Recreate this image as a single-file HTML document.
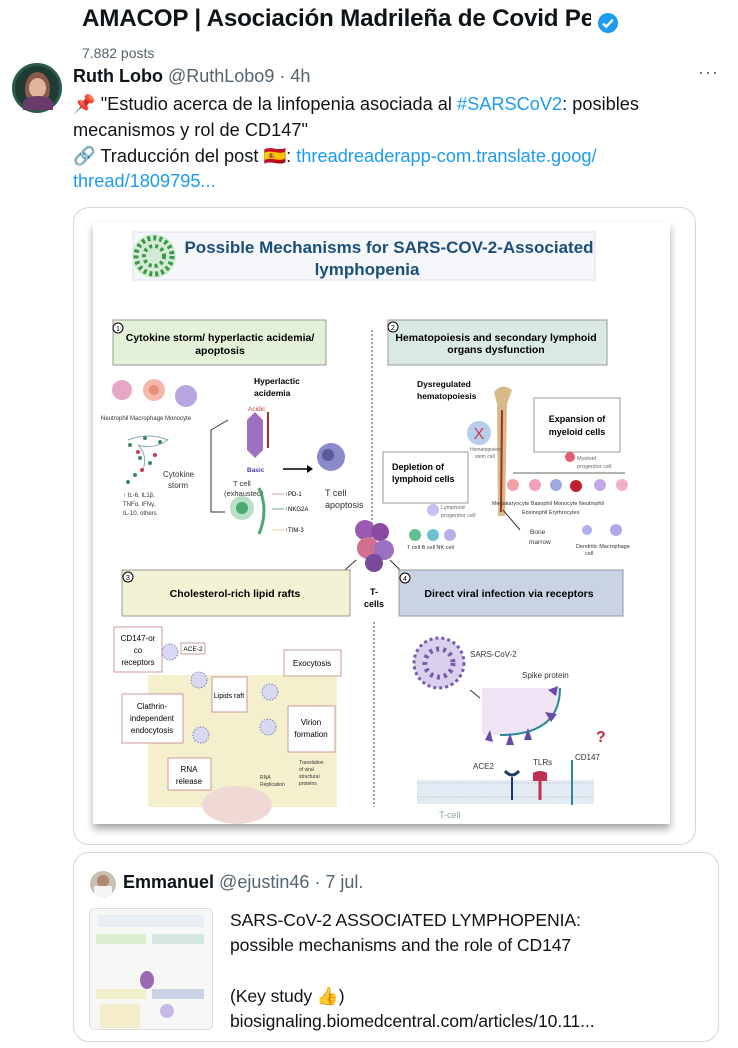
<!DOCTYPE html>
<html><head><meta charset="utf-8"><style>
*{margin:0;padding:0;box-sizing:border-box}
body{width:738px;height:1048px;background:#fff;position:relative;overflow:hidden;font-family:"Liberation Sans",sans-serif;color:#0f1419}
.a{position:absolute;white-space:nowrap}
.tx{font-size:18.2px;line-height:25px}
.qt{font-size:17.6px;line-height:25px;letter-spacing:-0.1px}
.blue{color:#1d9bf0}
.g{color:#536471}
</style></head><body>
<div class="a" style="left:82px;top:5px;font-size:24.2px;font-weight:bold;width:509px;overflow:hidden;letter-spacing:-0.2px">AMACOP | Asociación Madrileña de Covid Persistente</div>
<svg class="a" style="left:597px;top:12px" width="22" height="22" viewBox="0 0 22 22"><circle cx="11" cy="11" r="10" fill="#1d9bf0"/><path d="M6 11.5l3.3 3.2 6.5-7" stroke="#fff" stroke-width="2.4" fill="none"/></svg>
<div class="a g" style="left:82px;top:45px;font-size:14px">7.882 posts</div>
<div class="a" style="left:12px;top:63px;width:50px;height:50px;border-radius:50%;background:#1f3b34;border:3px solid #2a5a4c"><div style="position:absolute;left:10px;top:6px;width:25px;height:34px;border-radius:50%;background:#8a5a4a"></div><div style="position:absolute;left:14px;top:12px;width:17px;height:20px;border-radius:50%;background:#e0b59b"></div><div style="position:absolute;left:8px;top:30px;width:30px;height:14px;border-radius:50% 50% 0 0;background:#6a3a6a"></div></div>
<div class="a" style="left:73px;top:66px;font-size:18px"><b>Ruth Lobo</b> <span class="g">@RuthLobo9 · 4h</span></div>
<div class="a g" style="left:698px;top:62px;font-size:18px;letter-spacing:1px">···</div>
<div class="a tx" style="left:73px;top:92px">📌 "Estudio acerca de la linfopenia asociada al <span class="blue">#SARSCoV2</span>: posibles</div>
<div class="a tx" style="left:73px;top:118px">mecanismos y rol de CD147"</div>
<div class="a tx" style="left:73px;top:144px">🔗 Traducción del post 🇪🇸: <span class="blue">threadreaderapp-com.translate.goog/</span></div>
<div class="a tx blue" style="left:73px;top:169px">thread/1809795...</div>

<div class="a" style="left:73px;top:207px;width:623px;height:638px;border:1px solid #cfd9de;border-radius:16px"></div>
<div class="a" style="left:73px;top:852px;width:646px;height:190px;border:1px solid #cfd9de;border-radius:16px"></div>

<svg class="a" style="left:0;top:0" width="738" height="1048" font-family="Liberation Sans, sans-serif">
<defs><filter id="sh" x="-5%" y="-5%" width="110%" height="115%"><feDropShadow dx="0" dy="5" stdDeviation="4" flood-color="#000" flood-opacity="0.35"/></filter></defs>
<rect x="93" y="222" width="577" height="602" fill="#fff" filter="url(#sh)"/>
<rect x="133" y="232" width="462" height="48" fill="#f6f7fa" stroke="#dde" />
<circle cx="154" cy="256" r="22" fill="#d5ead5"/><circle cx="154" cy="256" r="18" fill="none" stroke="#3a9a4a" stroke-width="5" stroke-dasharray="3 3"/><circle cx="154" cy="256" r="10" fill="none" stroke="#3a9a4a" stroke-width="4" stroke-dasharray="3 3"/>
<text x="389" y="253" font-size="17" font-weight="bold" fill="#1b4f7a" text-anchor="middle">Possible Mechanisms for SARS-COV-2-Associated</text>
<text x="367" y="275" font-size="17" font-weight="bold" fill="#1b4f7a" text-anchor="middle">lymphopenia</text>
<line x1="372" y1="330" x2="372" y2="560" stroke="#444" stroke-dasharray="2 2"/>
<line x1="374" y1="622" x2="374" y2="807" stroke="#444" stroke-dasharray="2 2"/>
<rect x="113" y="320" width="213" height="45" fill="#e3f1d9" stroke="#999"/>
<circle cx="118" cy="328" r="5" fill="#fff" stroke="#000"/><text x="118" y="331" font-size="7" text-anchor="middle">1</text>
<text x="220" y="341" font-size="10.5" font-weight="bold" text-anchor="middle">Cytokine storm/  hyperlactic acidemia/</text>
<text x="220" y="354" font-size="10.5" font-weight="bold" text-anchor="middle">apoptosis</text>
<rect x="388" y="320" width="219" height="45" fill="#dbe9e6" stroke="#999"/>
<circle cx="393" cy="327" r="5" fill="#fff" stroke="#000"/><text x="393" y="330" font-size="7" text-anchor="middle">2</text>
<text x="496" y="341" font-size="10.5" font-weight="bold" text-anchor="middle">Hematopoiesis and secondary lymphoid</text>
<text x="496" y="353" font-size="10.5" font-weight="bold" text-anchor="middle">organs dysfunction</text>
<circle cx="122" cy="390" r="10" fill="#e8a6c8"/><circle cx="154" cy="390" r="11" fill="#f3b8a8"/><circle cx="154" cy="390" r="5" fill="#e88f7a"/><circle cx="186" cy="396" r="11" fill="#b9a6e0"/>
<text x="101" y="420" font-size="6" fill="#333">Neutrophil  Macrophage  Monocyte</text>
<text x="254" y="384" font-size="8.5" font-weight="bold">Hyperlactic</text><text x="254" y="396" font-size="8.5" font-weight="bold">acidemia</text>
<path d="M255 412 L263 420 L263 450 L255 458 L247 450 L247 420Z" fill="#a070c0"/><line x1="268" y1="448" x2="268" y2="412" stroke="#a03030" stroke-width="2"/>
<text x="248" y="411" font-size="6.5" fill="#c04050">Acidic</text><text x="247" y="472" font-size="6.5" fill="#5040a0" font-weight="bold">Basic</text>
<path d="M128 440 q20 -8 40 0 q-15 10 -30 5 q10 10 5 25" fill="none" stroke="#8ab" stroke-width="1"/>
<g fill="#3a8a6a"><circle cx="130" cy="445" r="2"/><circle cx="145" cy="438" r="2"/><circle cx="160" cy="442" r="2"/><circle cx="140" cy="458" r="2"/><circle cx="150" cy="463" r="2"/><circle cx="135" cy="475" r="2"/><circle cx="128" cy="482" r="2"/></g>
<g fill="#c04050"><circle cx="138" cy="452" r="2"/><circle cx="155" cy="455" r="2"/><circle cx="142" cy="470" r="2"/></g>
<text x="163" y="477" font-size="8" fill="#333">Cytokine</text><text x="168" y="488" font-size="8" fill="#333">storm</text>
<text x="123" y="497" font-size="6" fill="#333">↑ IL-6, IL1β,</text><text x="123" y="506" font-size="6" fill="#333">TNFα, IFNγ,</text><text x="123" y="515" font-size="6" fill="#333">IL-10, others</text>
<path d="M211 430 L211 512 L225 512" fill="none" stroke="#333"/><path d="M211 430 L228 420" fill="none" stroke="#333"/>
<text x="233" y="486" font-size="7.5" fill="#333">T cell</text><text x="224" y="496" font-size="7.5" fill="#333">(exhausted)</text>
<circle cx="242" cy="508" r="12" fill="#b9e0c8"/><circle cx="242" cy="508" r="6" fill="#4aa870"/><path d="M259 488 q10 22 0 46" fill="none" stroke="#4aa870" stroke-width="3"/>
<text x="285" y="496" font-size="6">↑PD-1</text><text x="285" y="511" font-size="6">↑NKG2A</text><text x="285" y="532" font-size="6">↑TIM-3</text>
<line x1="272" y1="494" x2="284" y2="494" stroke="#d9a" /><line x1="272" y1="509" x2="284" y2="509" stroke="#7a9"/><line x1="272" y1="530" x2="284" y2="530" stroke="#ec8"/>
<line x1="283" y1="469" x2="307" y2="469" stroke="#000" stroke-width="1.5"/><path d="M307 465 l6 4 -6 4z"/>
<circle cx="331" cy="457" r="14" fill="#8a8ac8"/><circle cx="328" cy="455" r="6" fill="#5a5aa0"/>
<text x="325" y="496" font-size="9" fill="#333">T cell</text><text x="325" y="508" font-size="9" fill="#333">apoptosis</text>
<circle cx="365" cy="530" r="10" fill="#9a5ab0"/><circle cx="380" cy="532" r="9" fill="#8a4aa0"/><circle cx="368" cy="548" r="11" fill="#d07090"/><circle cx="384" cy="550" r="10" fill="#9a70c0"/><circle cx="374" cy="563" r="9" fill="#7a4a9a"/>
<line x1="356" y1="560" x2="345" y2="570" stroke="#333"/><line x1="390" y1="560" x2="400" y2="570" stroke="#333"/>
<text x="374" y="595" font-size="9" font-weight="bold" text-anchor="middle">T-</text><text x="374" y="607" font-size="9" font-weight="bold" text-anchor="middle">cells</text>
<text x="417" y="387" font-size="8.5" font-weight="bold">Dysregulated</text><text x="417" y="399" font-size="8.5" font-weight="bold">hematopoiesis</text>
<path d="M494 392 q8 -10 18 -2 l-5 14 l-2 112 l-7 0 l-1 -112z" fill="#d8b98a"/><line x1="502" y1="410" x2="501" y2="512" stroke="#a03020" stroke-width="2"/>
<circle cx="479" cy="433" r="12" fill="#b7cdee"/><text x="479" y="439" font-size="16" fill="#d04040" text-anchor="middle">X</text>
<text x="470" y="451" font-size="5" fill="#666">Hematopoietic</text><text x="475" y="458" font-size="5" fill="#666">stem cell</text>
<rect x="534" y="398" width="86" height="54" fill="#fff" stroke="#999"/>
<text x="577" y="422" font-size="9" font-weight="bold" text-anchor="middle">Expansion of</text><text x="577" y="435" font-size="9" font-weight="bold" text-anchor="middle">myeloid cells</text>
<circle cx="570" cy="457" r="5" fill="#e06070"/><text x="577" y="460" font-size="5.5" fill="#666">Myeloid</text><text x="577" y="468" font-size="5.5" fill="#666">progenitor cell</text>
<line x1="513" y1="473" x2="625" y2="473" stroke="#666"/>
<g><circle cx="513" cy="485" r="6" fill="#f0a0a8"/><circle cx="535" cy="485" r="6" fill="#f0a0b8"/><circle cx="556" cy="485" r="6" fill="#a0a8e0"/><circle cx="576" cy="486" r="6" fill="#c02030"/><circle cx="600" cy="485" r="6" fill="#c0a8e8"/><circle cx="622" cy="485" r="6" fill="#f0b0c8"/></g>
<text x="492" y="505" font-size="5.5" fill="#333">Megakaryocyte  Basophil   Monocyte  Neutrophil</text>
<text x="522" y="514" font-size="5.5" fill="#333">Eosinophil  Erythrocytes</text>
<rect x="383" y="452" width="85" height="51" fill="#fff" stroke="#999"/>
<text x="392" y="470" font-size="9" font-weight="bold">Depletion of</text><text x="392" y="482" font-size="9" font-weight="bold">lymphoid cells</text>
<circle cx="433" cy="510" r="6" fill="#c8c0f0"/><text x="441" y="509" font-size="5.5" fill="#666">Lymphoid</text><text x="441" y="517" font-size="5.5" fill="#666">progenitor cell</text>
<circle cx="415" cy="535" r="6" fill="#60c090"/><circle cx="433" cy="535" r="6" fill="#70c0d0"/><circle cx="450" cy="535" r="6" fill="#b8b0e8"/>
<text x="407" y="549" font-size="5.5" fill="#333">T cell  B cell  NK cell</text>
<line x1="503" y1="510" x2="520" y2="530" stroke="#333"/><text x="530" y="534" font-size="6.5" fill="#333">Bone</text><text x="529" y="544" font-size="6.5" fill="#333">marrow</text>
<circle cx="587" cy="530" r="5" fill="#b0b0f0"/><circle cx="616" cy="530" r="6" fill="#b0a8e8"/>
<text x="576" y="548" font-size="5.5" fill="#333">Dendritic  Macrophage</text><text x="585" y="555" font-size="5.5" fill="#333">cell</text>
<rect x="122" y="570" width="228" height="46" fill="#f4f2d4" stroke="#999"/>
<circle cx="128" cy="577" r="5" fill="#fff" stroke="#000"/><text x="128" y="580" font-size="7" text-anchor="middle">3</text>
<text x="235" y="597" font-size="10.5" font-weight="bold" text-anchor="middle">Cholesterol-rich lipid rafts</text>
<rect x="148" y="675" width="189" height="132" fill="#f4efcc"/>
<ellipse cx="237" cy="805" rx="35" ry="19" fill="#f0d8d4"/>
<rect x="114" y="627" width="48" height="45" fill="#fff" stroke="#c99"/>
<text x="138" y="641" font-size="8" text-anchor="middle">CD147-or</text><text x="138" y="653" font-size="8" text-anchor="middle">co</text><text x="138" y="665" font-size="8" text-anchor="middle">receptors</text>
<rect x="181" y="643" width="24" height="11" fill="#fff" stroke="#c99"/><text x="193" y="651" font-size="6.5" text-anchor="middle">ACE-2</text>
<rect x="284" y="650" width="57" height="26" fill="#fff" stroke="#c99"/><text x="312" y="666" font-size="8" text-anchor="middle">Exocytosis</text>
<rect x="122" y="694" width="61" height="49" fill="#fff" stroke="#c99"/>
<text x="152" y="709" font-size="8" text-anchor="middle">Clathrin-</text><text x="152" y="721" font-size="8" text-anchor="middle">independent</text><text x="152" y="733" font-size="8" text-anchor="middle">endocytosis</text>
<rect x="212" y="677" width="35" height="35" fill="#fff" stroke="#c99"/><text x="229" y="698" font-size="7" text-anchor="middle">Lipids raft</text>
<rect x="288" y="706" width="47" height="46" fill="#fff" stroke="#c99"/><text x="311" y="725" font-size="8" text-anchor="middle">Virion</text><text x="311" y="737" font-size="8" text-anchor="middle">formation</text>
<rect x="168" y="758" width="43" height="32" fill="#fff" stroke="#c99"/><text x="189" y="772" font-size="8" text-anchor="middle">RNA</text><text x="189" y="784" font-size="8" text-anchor="middle">release</text>
<g fill="#d8d8f0" stroke="#8080c0" stroke-dasharray="1.5 1.5"><circle cx="170" cy="652" r="8"/><circle cx="199" cy="680" r="8"/><circle cx="270" cy="692" r="8"/><circle cx="201" cy="735" r="8"/><circle cx="268" cy="727" r="8"/></g>
<text x="299" y="764" font-size="5" fill="#333">Translation</text><text x="299" y="771" font-size="5" fill="#333">of viral</text><text x="299" y="778" font-size="5" fill="#333">structural</text><text x="299" y="785" font-size="5" fill="#333">proteins</text>
<text x="260" y="779" font-size="5" fill="#333">RNA</text><text x="260" y="786" font-size="5" fill="#333">Replication</text>
<rect x="399" y="570" width="224" height="46" fill="#c9d3e4" stroke="#999"/>
<circle cx="405" cy="578" r="5" fill="#fff" stroke="#000"/><text x="405" y="581" font-size="7" text-anchor="middle">4</text>
<text x="509" y="597" font-size="10.5" font-weight="bold" text-anchor="middle">Direct viral infection via receptors</text>
<circle cx="439" cy="663" r="25" fill="#d8d0ec" stroke="#7a5aaa" stroke-width="3" stroke-dasharray="3 3"/><circle cx="439" cy="663" r="14" fill="none" stroke="#7a5aaa" stroke-width="5" stroke-dasharray="3 4"/>
<text x="470" y="657" font-size="8" fill="#333">SARS-CoV-2</text><text x="522" y="678" font-size="8" fill="#333">Spike protein</text>
<line x1="470" y1="690" x2="480" y2="698" stroke="#333"/>
<path d="M482 688 L560 688 q0 47 -60 47 L482 735z" fill="#f0e4f4"/>
<path d="M560 688 q0 47 -60 47" fill="none" stroke="#2a8a9a" stroke-width="2"/>
<g fill="#6a4aa8"><path d="M548 690 l10 -4 -2 10z"/><path d="M545 712 l12 2 -6 8z"/><path d="M528 728 l4 12 -8 0z"/><path d="M510 733 l4 12 -8 0z"/><path d="M490 730 l3 12 -8 -2z"/></g>
<text x="473" y="769" font-size="8" fill="#333">ACE2</text><text x="533" y="765" font-size="8" fill="#333">TLRs</text><text x="575" y="760" font-size="8" fill="#333">CD147</text>
<text x="596" y="742" font-size="16" font-weight="bold" fill="#c03040">?</text>
<rect x="417" y="780" width="177" height="24" fill="#e3ecf4"/><line x1="417" y1="783" x2="594" y2="783" stroke="#ccc" stroke-dasharray="2 1"/><line x1="417" y1="797" x2="594" y2="797" stroke="#ccc" stroke-dasharray="2 1"/>
<path d="M505 771 q7 8 14 0" fill="none" stroke="#1a3a6a" stroke-width="3"/><line x1="512" y1="777" x2="512" y2="800" stroke="#1a3a6a" stroke-width="2"/>
<path d="M533 773 q7 -4 14 0 l0 8 -14 0z" fill="#c03050"/><line x1="540" y1="778" x2="540" y2="800" stroke="#c03050" stroke-width="3"/>
<line x1="572" y1="760" x2="572" y2="805" stroke="#2a8aa0" stroke-width="2"/>
<text x="439" y="818" font-size="9" fill="#8aa">T-cell</text>
</svg>

<div class="a" style="left:90px;top:871px;width:26px;height:26px;border-radius:50%;background:#c8c0b0;overflow:hidden"><div style="position:absolute;left:7px;top:4px;width:12px;height:12px;border-radius:50%;background:#b08870"></div><div style="position:absolute;left:4px;top:15px;width:18px;height:12px;background:#f4f4f4"></div></div>
<div class="a" style="left:123px;top:872px;font-size:18px"><b>Emmanuel</b> <span class="g">@ejustin46 · 7 jul.</span></div>
<div class="a" style="left:89px;top:908px;width:124px;height:122px;border-radius:6px;background:#f7f8f6;border:1px solid #ddd;overflow:hidden">
<div style="position:absolute;left:8px;top:6px;width:106px;height:12px;background:#e9eef4"></div>
<div style="position:absolute;left:6px;top:25px;width:50px;height:10px;background:#dcefd0"></div>
<div style="position:absolute;left:62px;top:25px;width:52px;height:10px;background:#d6e6e3"></div>
<div style="position:absolute;left:6px;top:80px;width:50px;height:10px;background:#f1efcc"></div>
<div style="position:absolute;left:62px;top:80px;width:52px;height:10px;background:#c9d3e4"></div>
<div style="position:absolute;left:50px;top:62px;width:14px;height:18px;border-radius:50%;background:#9a6ab0"></div>
<div style="position:absolute;left:10px;top:95px;width:40px;height:24px;background:#f3edcc"></div>
<div style="position:absolute;left:70px;top:95px;width:14px;height:14px;border-radius:50%;background:#c8b8e8"></div>
</div>
<div class="a qt" style="left:230px;top:908px">SARS-CoV-2 ASSOCIATED LYMPHOPENIA:</div>
<div class="a qt" style="left:230px;top:933px">possible mechanisms and the role of CD147</div>
<div class="a qt" style="left:230px;top:984px">(Key study 👍)</div>
<div class="a qt" style="left:230px;top:1009px">biosignaling.biomedcentral.com/articles/10.11...</div>
</body></html>
